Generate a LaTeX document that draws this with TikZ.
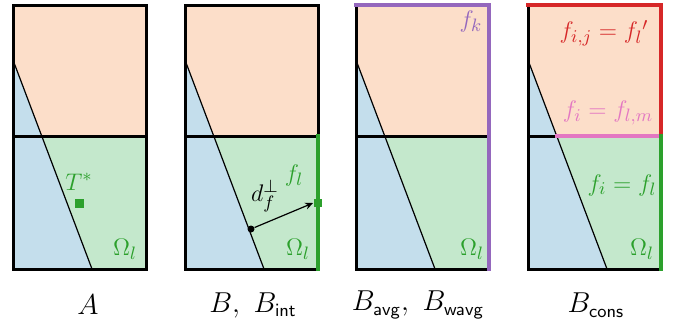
\documentclass[tikz,border=0pt]{standalone}
\usetikzlibrary{arrows.meta,positioning}
\definecolor{fillup}{RGB}{252,222,201}
\definecolor{fillleft}{RGB}{196,222,236}
\definecolor{filllow}{RGB}{196,232,204}
\definecolor{facegreen}{RGB}{44,160,44}
\definecolor{facepurple}{RGB}{148,103,189}
\definecolor{facered}{RGB}{214,39,40}
\definecolor{facepink}{RGB}{227,119,194}
\tikzset{
  frame/.style={line width=1.5pt, draw=black, line cap=rect, line join=miter},
  cut/.style={line width=0.6pt, draw=black},
  face/.style={line width=2pt, line cap=rect, line join=miter},
  lbl/.style={font=\fontsize{12.5}{14}\selectfont, inner sep=0pt},
  caption/.style={font=\fontsize{13.5}{15}\selectfont, inner sep=0pt},
  probe/.style={-{Stealth[length=4pt,width=3.5pt]}, line width=0.6pt, draw=black},
}
% one cell pair with the oblique interface, named by prefix #1, left edge at #2
\newcommand{\drawcell}[2]{%
  \coordinate (#1-tl) at (#2,5);
  \coordinate (#1-tr) at (#2+133,5);
  \coordinate (#1-ml) at (#2,136);
  \coordinate (#1-mr) at (#2+133,136);
  \coordinate (#1-bl) at (#2,269);
  \coordinate (#1-br) at (#2+133,269);
  \coordinate (#1-s) at (#2,60);
  \coordinate (#1-x) at (#2+28.7,136);
  \coordinate (#1-e) at (#2+79,269);
  \fill[fillup] (#1-tl) -- (#1-tr) -- (#1-mr) -- (#1-x) -- (#1-s) -- cycle;
  \fill[fillleft] (#1-s) -- (#1-e) -- (#1-bl) -- cycle;
  \fill[filllow] (#1-x) -- (#1-mr) -- (#1-br) -- (#1-e) -- cycle;
  \draw[cut] (#1-s) -- (#1-e);
}

\begin{document}
\begin{tikzpicture}[x=0.5pt, y=-0.5pt]
  \useasboundingbox (0,0) rectangle (681,323);

  % A
  \drawcell{a}{13}
  \draw[frame] (a-tl) rectangle (a-br);
  \draw[frame] (a-ml) -- (a-mr);
  \node[lbl, text=facegreen] (tstar) at (79,182) {$T^*$};
  \node[fill=facegreen, minimum size=4.5pt, inner sep=0pt] (tsq) at (79.5,203) {};
  \node[lbl, text=facegreen] (omA) at (125,249) {$\Omega_l$};
  \node[caption] (capA) at (88,305) {$A$};

  % B, B_int
  \drawcell{b}{185}
  \draw[frame] (b-tl) rectangle (b-br);
  \draw[frame] (b-ml) -- (b-mr);
  \draw[face, draw=facegreen] (b-mr) -- (b-br);
  \node[lbl, text=facegreen] (flB) at (294,175) {$f_l$};
  \node[circle, fill=black, minimum size=3.5pt, inner sep=0pt] (dot) at (251,229) {};
  \node[fill=facegreen, minimum size=4pt, inner sep=0pt] (foot) at (317.5,203) {};
  \draw[probe] (dot) -- (foot.west);
  \node[lbl] (dperp) at (265,196) {$d_f^{\perp}$};
  \node[lbl, text=facegreen] (omB) at (298,249) {$\Omega_l$};
  \node[caption] (capB) at (253,305) {$B,\ B_{\mathsf{int}}$};

  % B_avg, B_wavg
  \drawcell{c}{356}
  \draw[frame] (c-tl) -- (c-bl) -- (c-br);
  \draw[frame] (c-ml) -- (c-mr);
  \draw[face, draw=facepurple] (c-tl) -- (c-tr) -- (c-br);
  \node[lbl, text=facepurple] (fkC) at (471,21) {$f_k$};
  \node[lbl, text=facegreen] (omC) at (472,249) {$\Omega_l$};
  \node[caption] (capC) at (418,305) {$B_{\mathsf{avg}},\ B_{\mathsf{wavg}}$};

  % B_cons
  \drawcell{d}{528}
  \draw[frame] (d-tl) -- (d-bl) -- (d-br);
  \draw[frame] (d-ml) -- (d-x);
  \draw[face, draw=facered] (d-tl) -- (d-tr) -- (d-mr);
  \draw[face, draw=facepink] (d-x) -- (d-mr);
  \draw[face, draw=facegreen] (d-mr) -- (d-br);
  \node[lbl, text=facered] (fijD) at (604,33) {$f_{i,j} = f_l{}'$};
  \node[lbl, text=facepink] (flmD) at (608,113) {$f_i = f_{l,m}$};
  \node[lbl, text=facegreen] (flD) at (622,185) {$f_i = f_l$};
  \node[lbl, text=facegreen] (omD) at (642,249) {$\Omega_l$};
  \node[caption] (capD) at (596,305) {$B_{\mathsf{cons}}$};
\end{tikzpicture}
\end{document}
